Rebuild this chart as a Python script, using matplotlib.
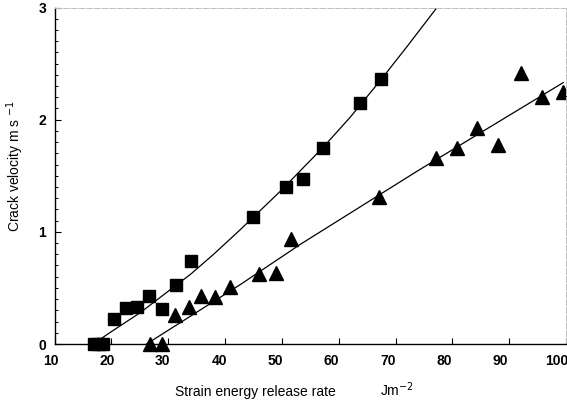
import numpy as np
import matplotlib
matplotlib.use("Agg")
import matplotlib.pyplot as plt
from matplotlib.ticker import MultipleLocator
from matplotlib.transforms import ScaledTranslation

plt.rcParams['font.family'] = ['Liberation Sans', 'DejaVu Sans']

# Squares
sq_x = [17.0, 17.8, 18.6, 20.5, 22.5, 24.6, 26.7, 29.0, 31.4, 34.1, 45.0, 50.8, 53.8, 57.2, 63.8, 67.5]
sq_y = [0.0, 0.0, 0.0, 0.22, 0.32, 0.33, 0.43, 0.31, 0.53, 0.74, 1.13, 1.40, 1.47, 1.75, 2.15, 2.36]

# Triangles
tr_x = [26.8, 28.9, 31.2, 33.6, 35.8, 38.3, 40.8, 46.0, 48.9, 51.7, 67.1, 77.2, 80.9, 84.4, 88.0, 92.0, 95.8, 99.5]
tr_y = [0.0, 0.0, 0.26, 0.33, 0.43, 0.42, 0.51, 0.62, 0.635, 0.94, 1.31, 1.655, 1.75, 1.93, 1.77, 2.42, 2.20, 2.25]

# Fitted curves
fit_sq_x = [16.8, 20.0, 25.1, 30.0, 33.9, 38.0, 42.7, 49.7, 57.2, 62.0, 67.5, 72.0, 77.3]
fit_sq_y = [0.0, 0.11, 0.28, 0.47, 0.62, 0.80, 1.02, 1.36, 1.75, 2.02, 2.36, 2.65, 3.0]
fit_tr_x = [26.2, 42.7, 53.3, 74.1, 99.5]
fit_tr_y = [0.0, 0.53, 0.89, 1.55, 2.33]

xticks = [10, 20, 30, 40, 50, 60, 70, 80, 90, 100]
yticks = [0, 1, 2, 3]

fig = plt.figure(figsize=(5.67, 4.05), dpi=100)
ax = fig.add_axes([54.5/567, 61/405, (566-54.5)/567, (344-7.5)/405])

ax.plot(fit_sq_x, fit_sq_y, color='black', lw=0.9)
ax.plot(fit_tr_x, fit_tr_y, color='black', lw=0.9)
ax.plot(sq_x, sq_y, 's', color='black', ms=9, clip_on=False)
ax.plot(tr_x, tr_y, '^', color='black', ms=10, clip_on=False)

ax.set_xlim(10, 100)
ax.set_ylim(0, 3)
ax.set_xticks(xticks)
ax.set_yticks(yticks)
ax.yaxis.set_minor_locator(MultipleLocator(0.1))
ax.tick_params(axis='both', which='major', direction='in', length=4, width=0.8,
               labelsize=10)
ax.tick_params(axis='x', which='major', pad=7)
ax.tick_params(axis='y', which='major', pad=6)
ax.tick_params(axis='y', which='minor', direction='in', length=2, width=0.7)
for lab in ax.get_xticklabels() + ax.get_yticklabels():
    lab.set_fontweight('bold')
for v, lab in zip(xticks, ax.get_xticklabels()):
    dx = -(4 + 5.5 * (v - 10) / 90) / 100.0
    lab.set_transform(lab.get_transform() + ScaledTranslation(dx, 0, fig.dpi_scale_trans))

for s in ['left', 'bottom']:
    ax.spines[s].set_linewidth(1.0)
for s in ['top', 'right']:
    ax.spines[s].set_color('#c0c0c0')
    ax.spines[s].set_linewidth(0.7)
    ax.spines[s].set_linestyle((0, (6, 2)))

ax.set_xlabel('Strain energy release rate', fontsize=10)
ax.xaxis.set_label_coords((255 - 54.5) / 511.5, -48/336.5, transform=ax.transAxes)
ax.xaxis.label.set_verticalalignment('center')
ax.text((380 - 54.5) / 511.5, -46/336.5, 'Jm$^{-2}$', transform=ax.transAxes,
        fontsize=10, ha='left', va='center')
ax.set_ylabel('Crack velocity m s $^{-1}$', fontsize=10)
ax.yaxis.set_label_coords(-39.5/511.5, 0.53, transform=ax.transAxes)
ax.yaxis.label.set_verticalalignment('center')

fig.savefig('out.png', dpi=100)
